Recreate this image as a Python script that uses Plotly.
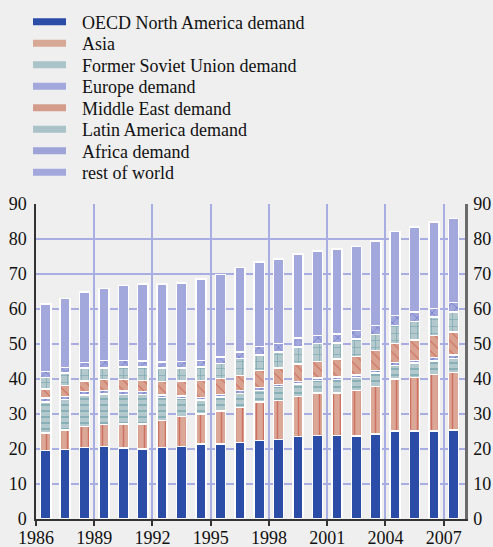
import plotly.graph_objects as go

years = list(range(1986, 2008))

oecd_na = [19.6, 19.8, 20.5, 20.7, 20.3, 20.0, 20.5, 20.7, 21.5, 21.5, 21.9,
           22.4, 22.7, 23.6, 23.9, 23.9, 23.7, 24.3, 25.1, 25.1, 25.1, 25.5]
asia = [5.0, 5.7, 5.9, 6.3, 6.9, 7.2, 7.6, 8.6, 8.5, 9.3, 10.0,
        11.0, 11.2, 11.4, 12.1, 12.1, 13.0, 13.6, 14.9, 15.4, 16.2, 16.4]
fsu = [8.9, 8.6, 9.0, 8.7, 8.4, 8.4, 6.6, 5.1, 4.0, 4.1, 4.0,
       3.3, 3.9, 3.6, 3.6, 3.9, 3.8, 3.8, 3.9, 4.1, 3.9, 4.0]
europe = [1.1, 0.9, 1.1, 1.0, 1.0, 0.9, 0.8, 0.7, 0.7, 0.7, 0.8,
          0.9, 0.7, 0.7, 0.7, 0.7, 0.6, 0.8, 0.8, 0.7, 0.9, 0.9]
middle_east = [2.6, 3.2, 2.9, 3.1, 3.2, 3.1, 3.8, 4.3, 4.9, 4.5, 4.3,
               4.8, 4.6, 5.0, 4.7, 5.1, 5.3, 5.6, 5.5, 5.9, 6.3, 6.6]
latin_america = [3.2, 3.5, 3.7, 3.4, 3.6, 3.8, 3.8, 3.7, 3.8, 4.3, 4.8,
                 4.5, 4.6, 4.8, 5.1, 4.6, 5.1, 4.6, 5.1, 5.3, 5.3, 5.7]
africa = [1.8, 1.6, 1.6, 2.1, 1.9, 1.7, 1.8, 1.9, 1.9, 1.9, 1.9,
          2.4, 2.4, 2.6, 2.3, 2.6, 2.4, 2.6, 2.8, 2.6, 2.5, 2.7]
rest_of_world = [19.3, 19.7, 20.2, 20.6, 21.4, 22.1, 22.3, 22.5, 23.3, 23.5, 24.1,
                 24.2, 24.2, 24.0, 24.2, 24.3, 24.0, 24.1, 24.1, 24.4, 24.6, 24.0]

series_names = ["OECD North America demand", "Asia", "Former Soviet Union demand",
                "Europe demand", "Middle East demand", "Latin America demand",
                "Africa demand", "rest of world"]
series_values = [oecd_na, asia, fsu, europe, middle_east, latin_america, africa, rest_of_world]

x_tick_years = [1986, 1989, 1992, 1995, 1998, 2001, 2004, 2007]
y_ticks = [0, 10, 20, 30, 40, 50, 60, 70, 80, 90]

# style: (background, pattern shape, pattern colour, pattern size, solidity)
styles = [
    ("#2b4da8", "", None, 8, 0.2),
    ("#dba898", "|", "#c0392b", 7, 0.22),
    ("#b3c9cd", "-", "#4d8c99", 6, 0.28),
    ("#a3a8dc", "/", "#3f50b5", 5, 0.25),
    ("#d9a290", "\\", "#c0392b", 7, 0.15),
    ("#b3c9cd", "+", "#4d8c99", 7, 0.2),
    ("#a3a8dc", "x", "#3f50b5", 7, 0.2),
    ("#a3a8dc", "", None, 8, 0.2),
]
legend_colors = ["#2b4da8", "#d8a896", "#aac4c9", "#a3a8dc", "#d49c8a", "#a9c3c8", "#9ea3d8", "#a3a8dc"]

xcenters = [y + 0.5 for y in years]
font_family = "Times New Roman, Liberation Serif, DejaVu Serif, serif"
grid = "#a9aee2"

fig = go.Figure()
for i, (name, vals) in enumerate(zip(series_names, series_values)):
    bg, shape, fg, size, sol = styles[i]
    marker = dict(color=bg, line=dict(color="white", width=1.5))
    if shape:
        marker["pattern"] = dict(shape=shape, fgcolor=fg, bgcolor=bg, size=size,
                                 solidity=sol, fillmode="overlay")
    fig.add_trace(go.Bar(x=xcenters, y=vals, name=name, marker=marker, width=0.52,
                         showlegend=False))

legend_layouts = {}
for i, name in enumerate(series_names):
    key = "legend" if i == 0 else f"legend{i + 1}"
    fig.add_trace(go.Scatter(x=[None], y=[None], mode="lines", name=name,
                             line=dict(color=legend_colors[i], width=7, dash="33px,60px"),
                             showlegend=True, legend=key))
    yc = 22 + 21.5 * i
    legend_layouts[key] = dict(xref="container", yref="container", x=28 / 493,
                               y=1 - yc / 547, xanchor="left", yanchor="middle",
                               bgcolor="rgba(0,0,0,0)", itemwidth=44,
                               font=dict(family=font_family, size=18, color="#111111"))

fig.update_layout(
    width=493, height=547,
    barmode="stack",
    paper_bgcolor="#efefef", plot_bgcolor="#efefef",
    margin=dict(l=36, r=28, t=204, b=28, autoexpand=False),
    font=dict(family=font_family, size=18, color="#111111"),
    xaxis=dict(range=[1986, 2008.1], tickmode="array", tickvals=x_tick_years,
               ticktext=[str(v) for v in x_tick_years], tickangle=0,
               showgrid=True, gridcolor=grid, gridwidth=1.5,
               showline=True, linecolor="#333333", linewidth=1.5,
               ticks="outside", ticklen=5, tickcolor="#333333", tickwidth=1.5,
               zeroline=False, fixedrange=True, automargin=False,
               ticklabelstandoff=-3),
    yaxis=dict(range=[0, 90], tickmode="array", tickvals=y_ticks,
               showgrid=True, gridcolor=grid, gridwidth=1.5,
               showline=True, linecolor="#333333", linewidth=1.5,
               ticks="", zeroline=False, ticklabelstandoff=4, automargin=False),
    yaxis2=dict(range=[0, 90], tickmode="array", tickvals=y_ticks,
                overlaying="y", side="right", showgrid=False,
                showline=True, linecolor="#6b6b6b", linewidth=2.5,
                ticks="", zeroline=False, ticklabelstandoff=2, automargin=False),
    **legend_layouts,
)
fig.add_trace(go.Scatter(x=[None], y=[None], yaxis="y2", showlegend=False))

fig.write_html("out.html", config={"displayModeBar": False},
               post_script="document.body.style.margin='0';")
